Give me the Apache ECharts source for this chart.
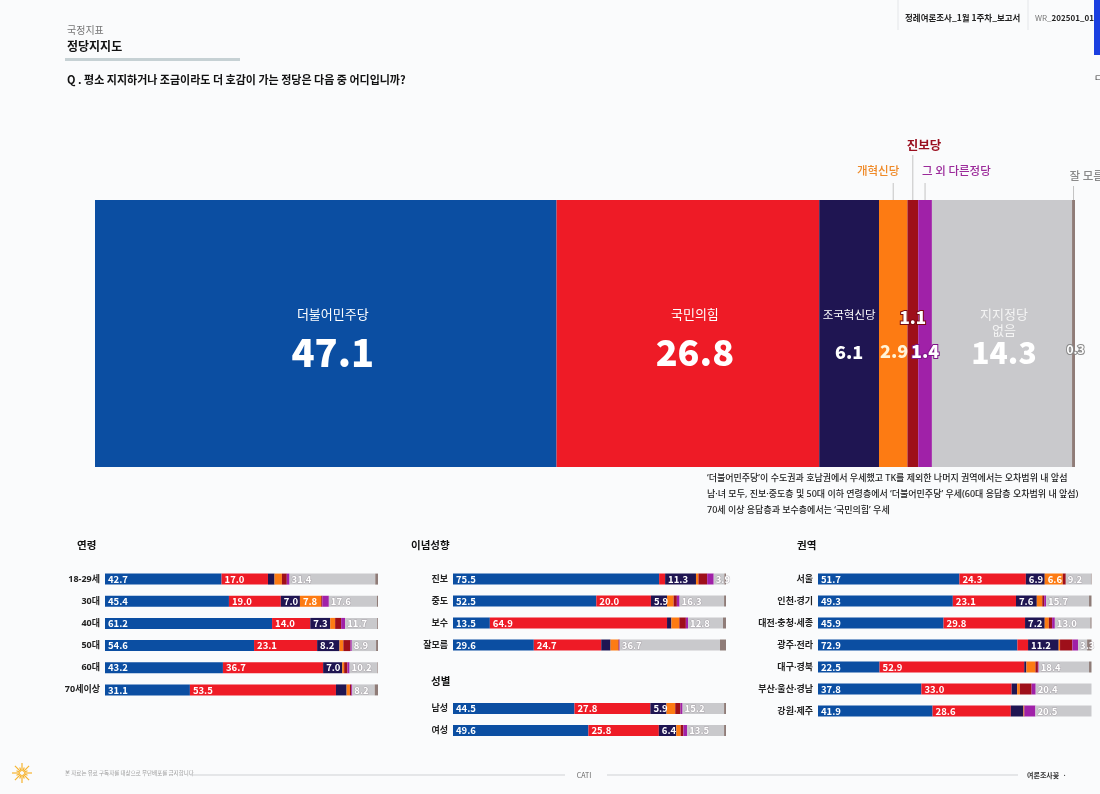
<!DOCTYPE html>
<html><head><meta charset="utf-8">
<script src="https://cdn.jsdelivr.net/npm/echarts/dist/echarts.min.js"></script>
<style>html,body{margin:0;padding:0;background:#fafbfc;} #c{width:1100px;height:794px;}</style>
</head><body><div id="c"></div>
<script>
// ---------- data ----------
const parties = ['더불어민주당','국민의힘','조국혁신당','개혁신당','진보당','그 외 다른정당','지지정당 없음','잘 모름'];
const totalValues = [47.1, 26.8, 6.1, 2.9, 1.1, 1.4, 14.3, 0.3];

const ageCats = ['18-29세','30대','40대','50대','60대','70세이상'];
const ageRows = [
  [42.7, 17.0, 2.4, 2.7, 1.8, 1.0, 31.4, 1.0],
  [45.4, 19.0, 7.0, 7.8, 0.4, 2.4, 17.6, 0.4],
  [61.2, 14.0, 7.3, 1.8, 2.2, 1.5, 11.7, 0.3],
  [54.6, 23.1, 8.2, 1.4, 2.6, 0.5, 8.9, 0.7],
  [43.2, 36.7, 7.0, 0.7, 1.2, 0.8, 10.2, 0.2],
  [31.1, 53.5, 3.9, 1.2, 0.5, 0.4, 8.2, 1.2]
];
const ideoCats = ['진보','중도','보수','잘모름'];
const ideoRows = [
  [75.5, 2.2, 11.3, 0.9, 3.2, 2.4, 3.9, 0.6],
  [52.5, 20.0, 5.9, 2.4, 1.2, 1.0, 16.3, 0.7],
  [13.5, 64.9, 1.6, 2.9, 2.4, 0.8, 12.8, 1.1],
  [29.6, 24.7, 3.4, 2.9, 0.3, 0.2, 36.7, 2.2]
];
const genderCats = ['남성','여성'];
const genderRows = [
  [44.5, 27.8, 5.9, 3.2, 1.9, 0.8, 15.2, 0.7],
  [49.6, 25.8, 6.4, 1.6, 1.0, 1.4, 13.5, 0.7]
];
const regionCats = ['서울','인천·경기','대전·충청·세종','광주·전라','대구·경북','부산·울산·경남','강원·제주'];
const regionRows = [
  [51.7, 24.3, 6.9, 6.6, 1.1, 0.0, 9.2, 0.2],
  [49.3, 23.1, 7.6, 2.0, 0.7, 0.7, 15.7, 0.9],
  [45.9, 29.8, 7.2, 1.5, 1.2, 1.0, 13.0, 0.4],
  [72.9, 3.9, 11.2, 0.5, 4.5, 2.1, 3.3, 1.6],
  [22.5, 52.9, 0.8, 3.3, 0.9, 0.3, 18.4, 0.9],
  [37.8, 33.0, 2.0, 1.0, 4.3, 1.5, 20.4, 0.0],
  [41.9, 28.6, 4.6, 0.2, 0.2, 4.0, 20.5, 0.0]
];

// ---------- style ----------
const FF = "'Noto Sans CJK KR','Noto Sans',sans-serif";
const FL = "'Noto Sans','Noto Sans CJK KR',sans-serif";
const colors = ['#0b4ea2','#ee1b26','#1f1552','#fd7b13','#9e0f1a','#a021a8','#c9c9cc','#8f7c78'];

const grid = [], xAxis = [], yAxis = [], series = [];

// main bar
grid.push({left: 95, top: 200, width: 980, height: 267});
xAxis.push({gridIndex: 0, type: 'value', min: 0, max: 100, show: false});
yAxis.push({gridIndex: 0, type: 'category', data: ['전체'], show: false});

const mainLabel = [
  {fmt: v => '{n|더불어민주당}\n{v|' + v + '}', offset: [7, 9], rich: {n: {fontSize: 13, lineHeight: 20}, v: {fontSize: 38, fontWeight: 900, lineHeight: 56}}},
  {fmt: v => '{n|국민의힘}\n{v|' + v + '}', offset: [7, 9], rich: {n: {fontSize: 13, lineHeight: 20}, v: {fontSize: 36, fontWeight: 900, lineHeight: 56}}},
  {fmt: v => '{n|조국혁신당}\n{v|' + v + '}', offset: [0, 9], rich: {n: {fontSize: 11.5, lineHeight: 20}, v: {fontSize: 18, fontWeight: 900, lineHeight: 56}}},
  {fmt: v => '{v|' + v + '}', offset: [1, 17.5], rich: {v: {fontSize: 18, fontWeight: 900, color: '#fff4d8'}}},
  {fmt: v => '{v|' + v + '}', offset: [0, -15.5], rich: {v: {fontSize: 17, fontWeight: 900, color: '#fff', textBorderColor: '#7a0a12', textBorderWidth: 2}}},
  {fmt: v => '{v|' + v + '}', offset: [0, 17.5], rich: {v: {fontSize: 18, fontWeight: 900, color: '#fff', textBorderColor: '#7e1488', textBorderWidth: 2}}},
  {fmt: v => '{n|지지정당}\n{n|없음}\n{v|' + v + '}', offset: [2, 3], rich: {n: {fontSize: 13, lineHeight: 16, color: '#f4f4f4'}, v: {fontSize: 30, fontWeight: 900, lineHeight: 28}}},
  {fmt: v => '{v|' + v + '}', offset: [2, 15.5], rich: {v: {fontSize: 12, fontWeight: 'bold', color: '#fff', textBorderColor: '#8a8a8a', textBorderWidth: 2}}}
];
parties.forEach((p, k) => {
  const L = mainLabel[k];
  series.push({
    type: 'bar', name: p, xAxisIndex: 0, yAxisIndex: 0, stack: 'main', barWidth: '100%', clip: false,
    data: [totalValues[k]], itemStyle: {color: colors[k]}, silent: true,
    label: {show: true, position: 'inside', offset: L.offset, color: '#fff', fontFamily: FF,
      formatter: prm => L.fmt(prm.value.toFixed(1)), rich: L.rich}
  });
});

function addGroup(cats, rows, box) {
  const gi = grid.length;
  grid.push(box);
  xAxis.push({gridIndex: gi, type: 'value', min: 0, max: 100, show: false});
  yAxis.push({gridIndex: gi, type: 'category', data: cats, inverse: true,
    axisLine: {show: false}, axisTick: {show: false}, splitLine: {show: false},
    axisLabel: {fontSize: 9, color: '#222', fontWeight: 'bold', margin: 5, fontFamily: FL}});
  parties.forEach((p, k) => {
    series.push({
      type: 'bar', name: p, xAxisIndex: gi, yAxisIndex: gi, stack: 'g' + gi, barWidth: 11, silent: true, clip: false,
      data: rows.map(r => r[k]), itemStyle: {color: colors[k]},
      label: {show: true, position: 'insideLeft', distance: k === 6 ? 2 : 3, color: '#fff', fontSize: 9.5,
        fontWeight: 'bold', fontFamily: FF, overflow: 'none',
        textBorderColor: k === 6 ? 'rgba(150,140,150,0.55)' : 'transparent', textBorderWidth: k === 6 ? 1 : 0,
        formatter: prm => (prm.value >= 5 || k === 6) ? prm.value.toFixed(1) : ''}
    });
  });
}
addGroup(ageCats, ageRows, {left: 105, top: 568, width: 273, height: 133});
addGroup(ideoCats, ideoRows, {left: 453, top: 568, width: 273, height: 88});
addGroup(genderCats, genderRows, {left: 453, top: 697.5, width: 273, height: 44});
addGroup(regionCats, regionRows, {left: 818, top: 568, width: 273.5, height: 154});

const chart = echarts.init(document.getElementById('c'), null, {renderer: 'canvas'});
chart.setOption({
  backgroundColor: '#fafbfc',
  animation: false,
  grid, xAxis, yAxis, series
});

// ---------- text & decorations ----------
function txt(x, y, text, size, color, weight, align, fam) {
  return {type: 'text', x, y, silent: true,
    style: {text, font: (weight || 'normal') + ' ' + size + 'px ' + (fam || FF), fill: color,
      textAlign: align || 'left', textVerticalAlign: 'middle'}};
}
function hline(x1, y1, x2, y2, color, w) {
  return {type: 'line', silent: true, shape: {x1, y1, x2, y2}, style: {stroke: color, lineWidth: w || 1}};
}
const g = [];
g.push(txt(67, 30, '국정지표', 10, '#777'));
g.push(txt(67, 46, '정당지지도', 12, '#111', 'bold'));
g.push({type: 'rect', silent: true, shape: {x: 65, y: 58, width: 175, height: 3}, style: {fill: '#c6d1d4'}});
g.push(txt(67, 80, 'Q . 평소 지지하거나 조금이라도 더 호감이 가는 정당은 다음 중 어디입니까?', 11, '#111', '600'));
g.push(hline(898, 0, 898, 30, '#e4e6e9'));
g.push(hline(1028, 0, 1028, 30, '#e4e6e9'));
g.push(txt(905, 18, '정례여론조사_1월 1주차_보고서', 8.5, '#222', 'bold'));
g.push({type: 'text', x: 1035, y: 18, silent: true, style: {text: '{a|WR_}{b|202501_01}', textVerticalAlign: 'middle',
  rich: {a: {fontSize: 8, fill: '#777', fontFamily: FF}, b: {fontSize: 8, fontWeight: 'bold', fill: '#222', fontFamily: FF}}}});
g.push({type: 'rect', silent: true, shape: {x: 1094, y: 0, width: 6, height: 55}, style: {fill: '#1a3fe0'}});
g.push(txt(1094, 78, 'ㄷ', 9, '#333'));

// notes
const notes = [
  '‘더불어민주당’이 수도권과 호남권에서 우세했고 TK를 제외한 나머지 권역에서는 오차범위 내 앞섬',
  '남·녀 모두, 진보·중도층 및 50대 이하 연령층에서 ‘더불어민주당’ 우세(60대 응답층 오차범위 내 앞섬)',
  '70세 이상 응답층과 보수층에서는 ‘국민의힘’ 우세'
];
notes.forEach((t, i) => g.push(txt(707, 478 + i * 16, t, 9, '#222', '500', 'left', FL)));

// section titles
g.push(txt(77, 545, '연령', 10.5, '#111', 'bold'));
g.push(txt(411, 545, '이념성향', 10.5, '#111', 'bold'));
g.push(txt(431, 681, '성별', 10.5, '#111', 'bold'));
g.push(txt(797, 545, '권역', 10.5, '#111', 'bold'));

// footer
for (let i = 0; i < 16; i++) {
  const a = i * Math.PI / 8, r = (i % 2) ? 6 : 10;
  g.push(hline(22 + 2 * Math.cos(a), 773 + 2 * Math.sin(a), 22 + r * Math.cos(a), 773 + r * Math.sin(a), '#f6b42e', 1.2));
}
g.push(txt(65, 773, '본 자료는 유료 구독자를 대상으로 무단배포를 금지합니다', 5.5, '#9a9a9a'));
g.push(hline(190, 775, 565, 775, '#cfd1d4'));
g.push(txt(584, 775, 'CATI', 7, '#666', 'normal', 'center'));
g.push(hline(607, 775, 1018, 775, '#cfd1d4'));
g.push(txt(1027, 775, '여론조사꽃  ·', 7, '#333', 'bold'));

// annotations above main bar, placed via the axis scale
const barTop = 200;
const cum = []; let s = 0;
totalValues.forEach(v => { cum.push(s + v / 2); s += v; });
const ann = [
  {k: 3, text: '개혁신당', color: '#ef8a28', align: 'right', dx: 6, ty: 171, ly: 183, size: 11.5, w: '500'},
  {k: 4, text: '진보당', color: '#9a1020', align: 'left', dx: -6, ty: 145, ly: 155, size: 12.5, w: 'bold'},
  {k: 5, text: '그 외 다른정당', color: '#9b2a9a', align: 'left', dx: -3, ty: 171, ly: 183, size: 11.5, w: '500'},
  {k: 7, text: '잘 모름', color: '#8a8a8a', align: 'left', dx: -4, ty: 176, ly: 186, size: 11.5, w: '500'}
];
ann.forEach(a => {
  const p = chart.convertToPixel({xAxisIndex: 0, yAxisIndex: 0}, [cum[a.k], 0]);
  g.push(hline(p[0], a.ly, p[0], barTop, '#c4c4c4'));
  g.push(txt(p[0] + a.dx, a.ty, a.text, a.size, a.color, a.w, a.align));
});

chart.setOption({graphic: g});
</script>
</body></html>
